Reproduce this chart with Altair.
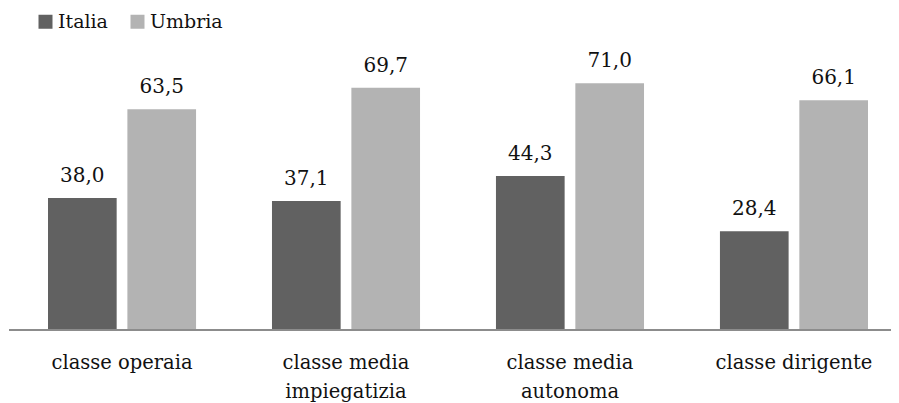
import altair as alt
import pandas as pd

categories = ["classe operaia", "classe media impiegatizia", "classe media autonoma", "classe dirigente"]
series = ["Italia", "Umbria"]
italia = [38.0, 37.1, 44.3, 28.4]
umbria = [63.5, 69.7, 71.0, 66.1]

rows = []
for c, a, b in zip(categories, italia, umbria):
    rows.append({"cat": c, "serie": "Italia", "val": a})
    rows.append({"cat": c, "serie": "Umbria", "val": b})
df = pd.DataFrame(rows)
df["lab"] = df["val"].map(lambda v: f"{v:.1f}".replace(".", ","))

FONT = "DejaVu Serif"

x = alt.X("cat:N", sort=categories, title=None,
          scale=alt.Scale(range=[39, 859], paddingInner=0.339, paddingOuter=0),
          axis=alt.Axis(labelAngle=0, ticks=False, domain=False,
                        labelFont=FONT, labelFontSize=19.5, labelColor="#111111",
                        labelPadding=23, labelLineHeight=29,
                        labelExpr="length(datum.label) > 16 ? [slice(datum.label,0,12), slice(datum.label,13)] : datum.label"))
xo = alt.XOffset("serie:N", sort=series, scale=alt.Scale(paddingInner=0.135, paddingOuter=0))
y = alt.Y("val:Q", scale=alt.Scale(domain=[0, 80]), axis=None)

color = alt.Color("serie:N", sort=series,
                  scale=alt.Scale(domain=series, range=["#616161", "#b3b3b3"]),
                  legend=alt.Legend(title=None, orient="none", direction="horizontal",
                                    legendX=27, legendY=-40, symbolType="square", symbolSize=196,
                                    symbolStrokeWidth=0, labelFont=FONT, labelFontSize=19,
                                    labelColor="#111111", labelOffset=3, columnPadding=20))

bars = alt.Chart(df).mark_bar().encode(x=x, xOffset=xo, y=y, color=color)
text = alt.Chart(df).mark_text(font=FONT, fontSize=20, color="#111111", baseline="alphabetic", dy=-16).encode(
    x=x, xOffset=xo, y=y, text="lab:N")
baseline = alt.Chart(pd.DataFrame({"z": [0]})).mark_rule(color="#8c8c8c", strokeWidth=2).encode(
    x=alt.value(0), x2=alt.value(882), y=alt.value(278))

chart = (bars + text + baseline).properties(
    width=882, height=278,
    autosize=alt.AutoSizeParams(type="none"),
    padding={"left": 1, "top": 44, "right": 0, "bottom": 73},
).configure_view(stroke=None).configure_axis(grid=False)

chart.save("out.html", embed_options={"renderer": "svg", "actions": False})
